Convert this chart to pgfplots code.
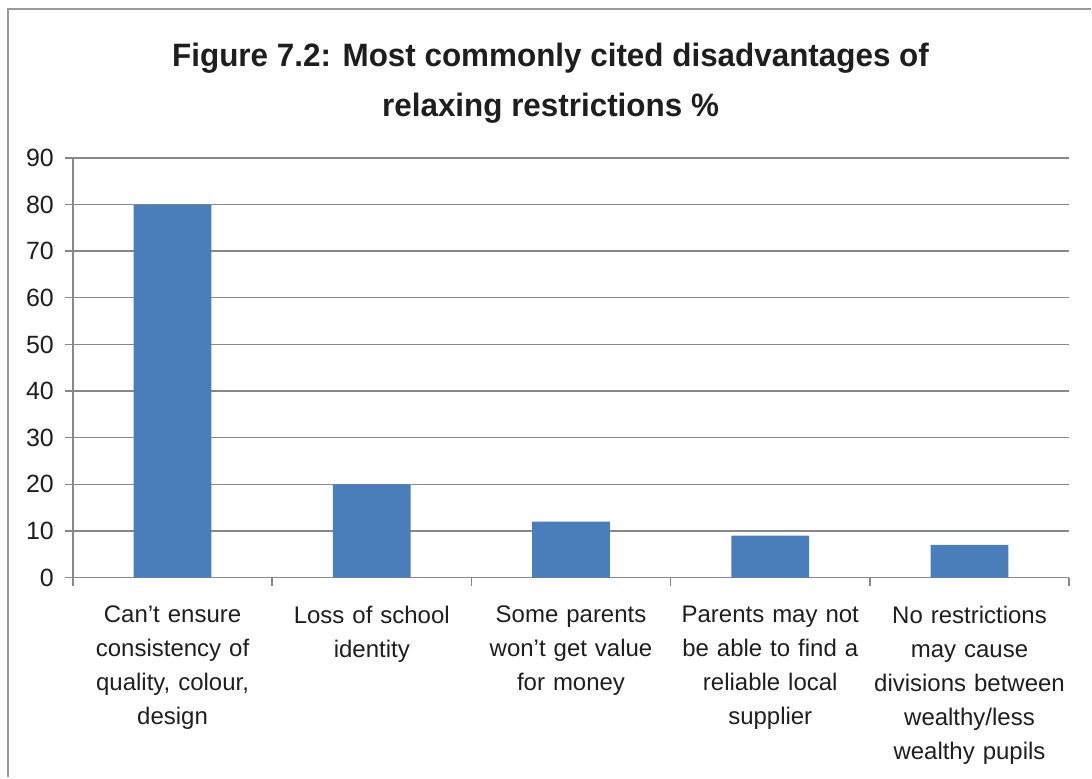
\documentclass[border=0pt]{standalone}
\usepackage{fontspec}
\setmainfont{Liberation Sans}
\newfontfamily\titlefont[FakeStretch=0.97]{Liberation Sans}
\usepackage{pgfplots}
\pgfplotsset{compat=1.18}
\definecolor{barblue}{HTML}{4A7EBB}
\definecolor{axisgray}{HTML}{888888}
\definecolor{framegray}{HTML}{9A9A9A}
\definecolor{txt}{HTML}{1E1E1E}
\begin{document}
\begin{tikzpicture}
\path (0pt,0pt) rectangle (546pt,-389pt);
\draw[framegray, line width=0.9pt] (4pt,-389pt) -- (4pt,-4.5pt) -- (546pt,-4.5pt);
\node[anchor=base, inner sep=0pt, txt, font=\titlefont\bfseries\fontsize{16.2}{20}\selectfont] at (275.5pt,-33.5pt) {Figure 7.2: Most commonly cited disadvantages of};
\node[anchor=base, inner sep=0pt, txt, font=\titlefont\bfseries\fontsize{16.2}{20}\selectfont] at (275.5pt,-58.5pt) {relaxing restrictions \%};
\begin{axis}[
  at={(36.5pt,-289pt)}, anchor=south west,
  scale only axis, width=498.5pt, height=210pt,
  xmin=-0.5, xmax=4.5, ymin=0, ymax=90,
  ytick={0,10,...,90},
  xtick={-0.5,0.5,1.5,2.5,3.5,4.5},
  xticklabels={},
  xticklabel style={inner sep=0pt},
  extra x ticks={0,1,2,3,4},
  extra x tick labels={{Can’t ensure\\consistency of\\quality, colour,\\design},{Loss of school\\identity},{Some parents\\won’t get value\\for money},{Parents may not\\be able to find a\\reliable local\\supplier},{No restrictions\\may cause\\divisions between\\wealthy/less\\wealthy pupils}},
  extra x tick style={major tick length=0pt, grid=none,
    xticklabel style={font=\fontsize{12}{17}\selectfont, txt, text width=99pt, align=center, anchor=north, inner sep=0pt, yshift=-14pt}},
  axis x line*=bottom, axis y line*=left,
  axis line style={draw=axisgray, line width=0.7pt, -},
  tick style={draw=axisgray, line width=0.7pt},
  tick align=outside, major tick length=4pt,
  ymajorgrids, grid style={draw=axisgray, line width=0.7pt},
  /pgf/number format/assume math mode=true,
  yticklabel style={font=\fontsize{12.5}{15}\selectfont, txt, xshift=-2pt},
  ybar, bar width=0.39,
]
\addplot[fill=barblue, draw=none] coordinates {(0,80) (1,20) (2,12) (3,9) (4,7)};
\end{axis}
\end{tikzpicture}
\end{document}
